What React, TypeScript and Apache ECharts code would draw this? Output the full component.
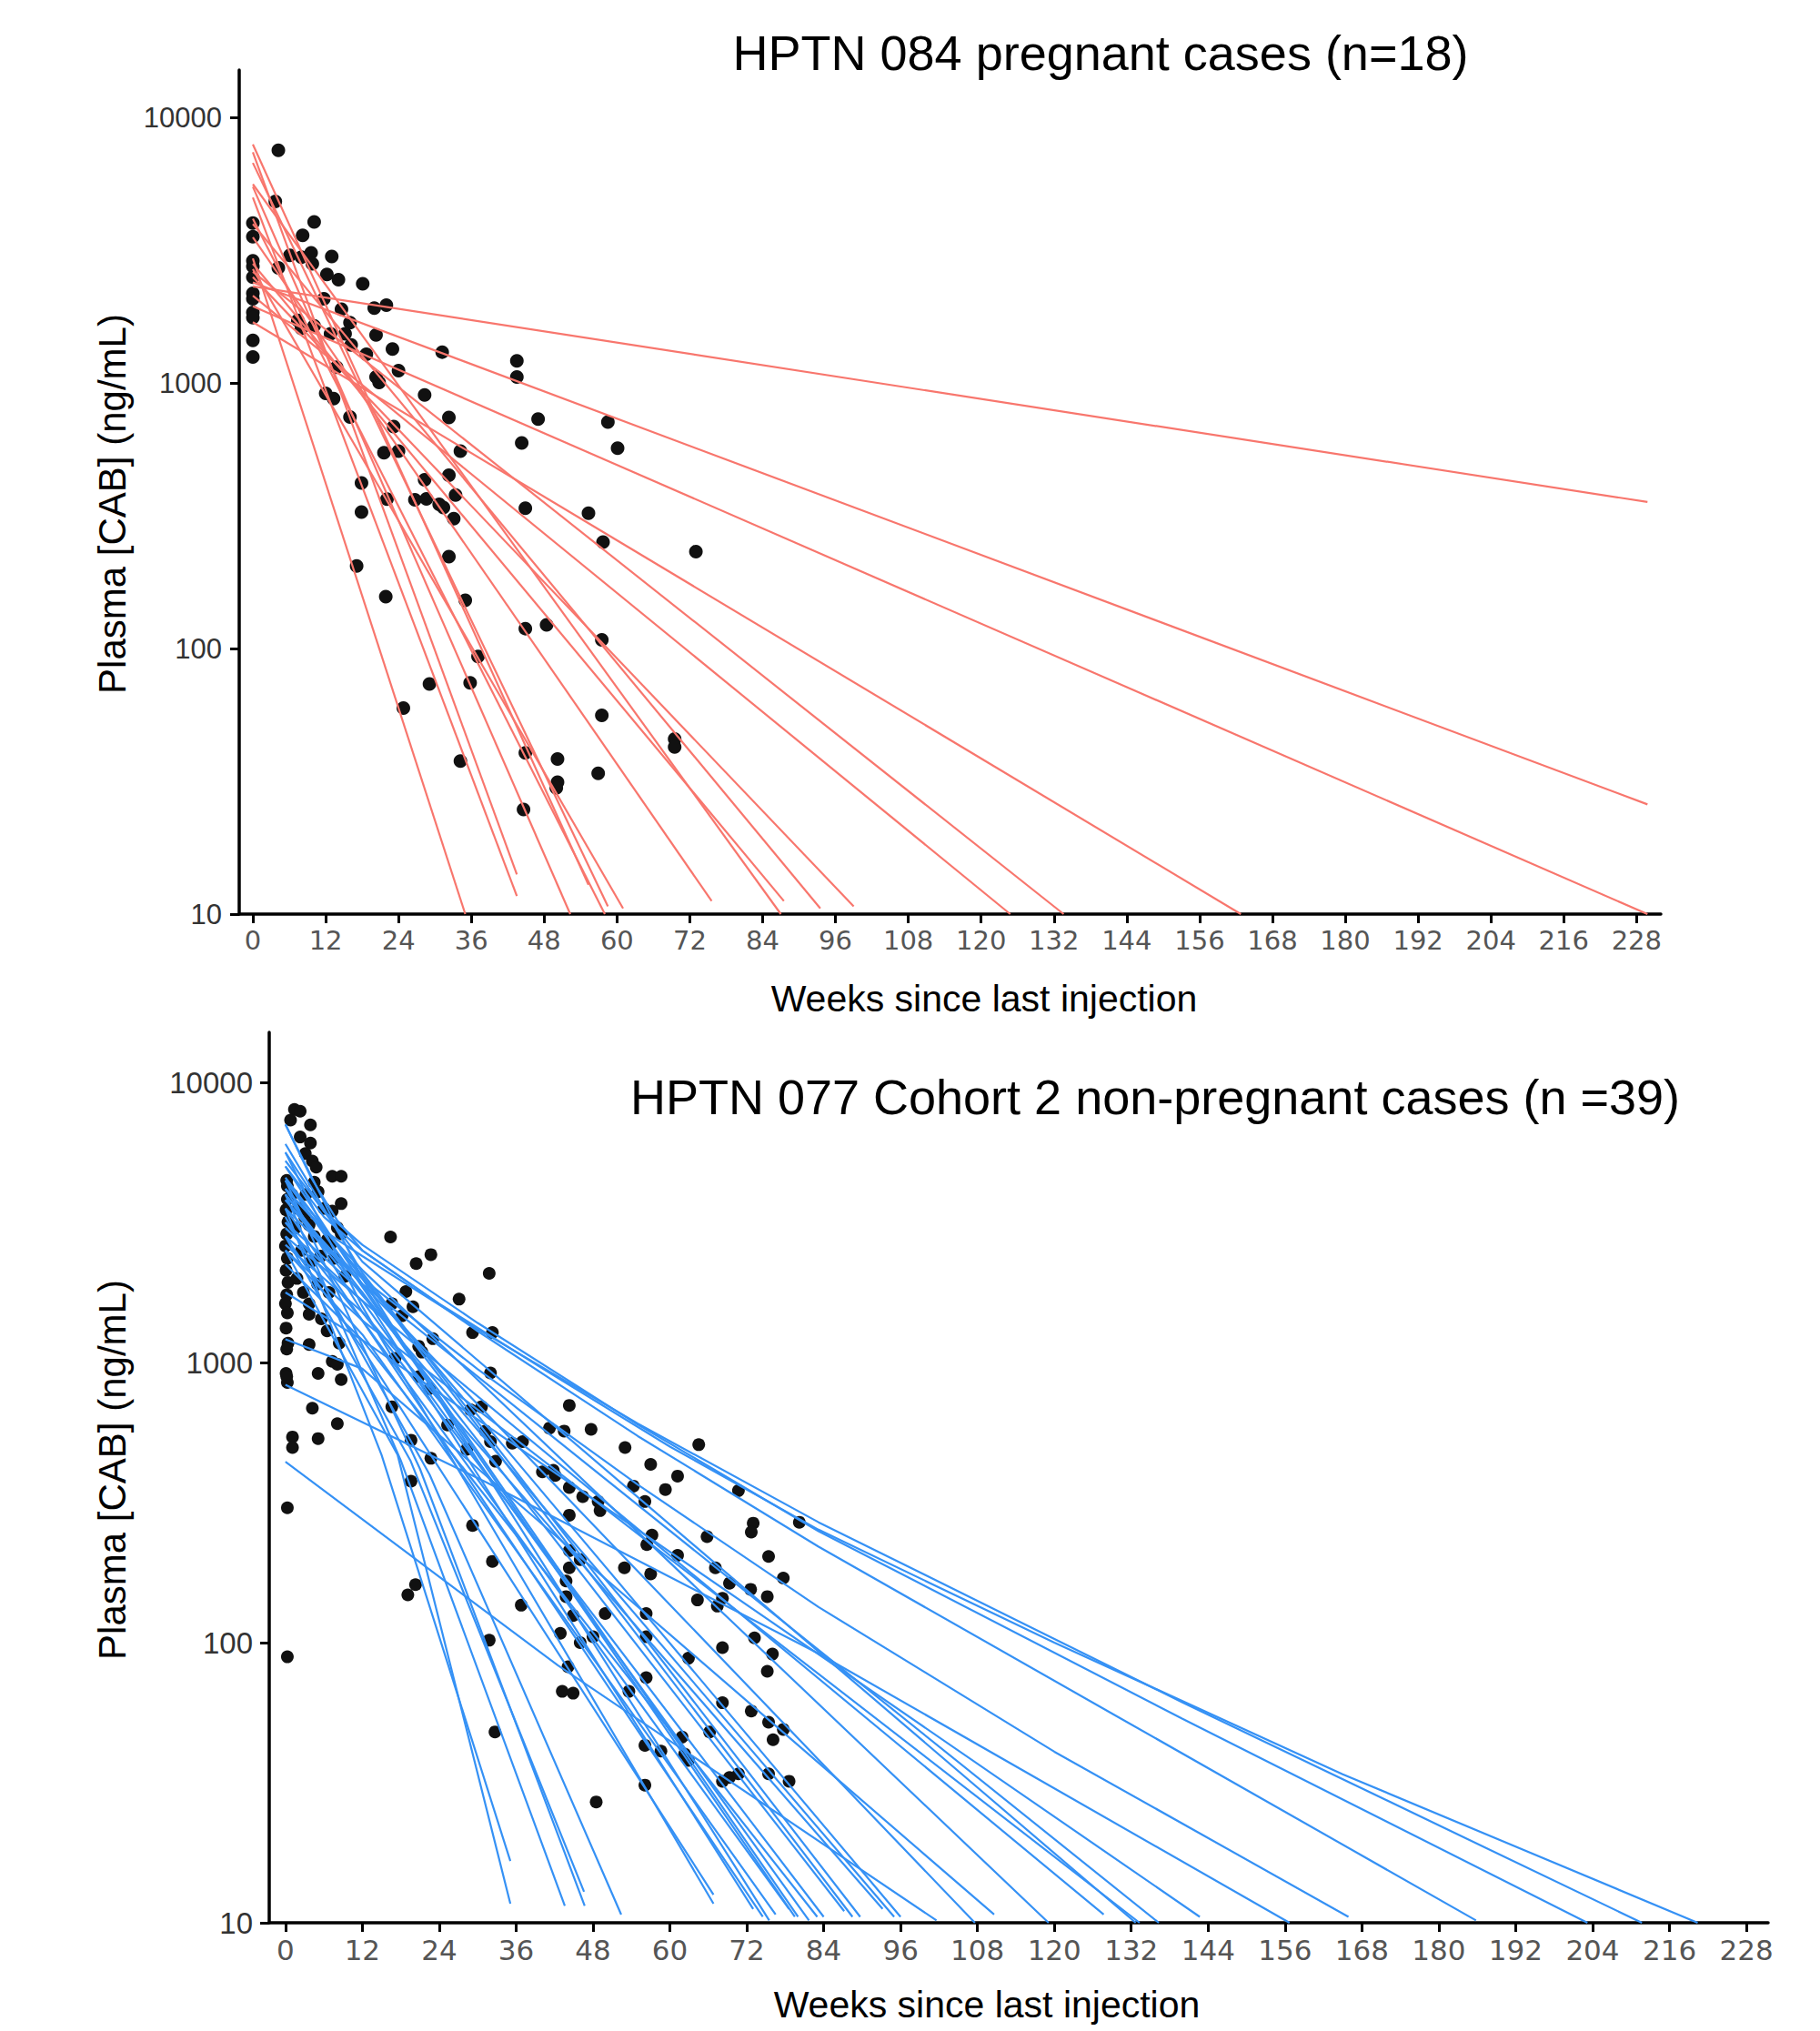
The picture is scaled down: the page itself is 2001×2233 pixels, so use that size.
import React, { useEffect, useRef } from 'react';
import * as echarts from 'echarts';

const WEEK_TICKS = [0, 12, 24, 36, 48, 60, 72, 84, 96, 108, 120, 132, 144, 156, 168, 180, 192, 204, 216, 228];
const CONC_TICKS = [10, 100, 1000, 10000];

const TITLE_084 = 'HPTN 084 pregnant cases (n=18)';
const TITLE_077 = 'HPTN 077 Cohort 2 non-pregnant cases (n =39)';
const X_NAME = 'Weeks since last injection';
const Y_NAME = 'Plasma [CAB] (ng/mL)';

// HPTN 084: observed concentrations [weeks, ng/mL]
const points084: [number, number][] = [
  [4.2, 7550], [3.7, 4840],
  [0, 4010], [0, 3565], [0, 2890], [0, 2755], [0, 2510], [0, 2180], [0, 2080], [0, 1850], [0, 1765], [0, 1450], [0, 1255],
  [10.1, 4050], [8.2, 3610], [4.2, 2720], [6.1, 3030], [8.0, 2985], [9.6, 3100], [9.8, 2820], [13.0, 3000],
  [12.2, 2570], [14.1, 2455], [18.1, 2370], [11.7, 2080], [14.6, 1900], [16.0, 1690], [20.0, 1920], [22.0, 1970],
  [7.4, 1725], [8.0, 1610], [10.1, 1645], [12.8, 1535], [15.2, 1535], [16.2, 1395], [20.3, 1520], [18.7, 1285],
  [23.0, 1345], [13.8, 1150], [20.3, 1055], [20.8, 1007], [24.0, 1115], [31.2, 1310], [43.5, 1215], [43.5, 1055],
  [12.0, 916], [13.3, 875], [28.3, 904], [16.0, 746], [32.3, 743], [23.2, 686], [47.0, 733], [58.5, 714],
  [44.3, 596], [60.1, 569], [21.6, 547], [24.0, 555], [34.2, 555], [32.3, 450], [17.9, 421], [28.3, 433],
  [22.1, 366], [26.7, 364], [28.6, 367], [30.7, 350], [31.4, 340], [33.4, 379], [33.1, 309], [17.9, 327],
  [44.9, 338], [55.3, 324], [57.7, 252], [73.0, 232], [17.1, 205], [32.3, 222], [21.9, 157], [35.0, 152],
  [44.9, 119], [48.4, 123], [57.5, 108], [37.1, 93.5], [29.1, 73.6], [35.8, 74.3], [24.8, 59.7], [57.5, 56.1],
  [69.5, 45.7], [69.5, 42.6], [44.9, 40.5], [50.2, 38.4], [50.2, 31.4], [50.0, 29.9], [56.9, 33.9], [34.2, 37.7],
  [44.6, 24.8],
];

// HPTN 084: individual decay lines, knots [weeks, ng/mL]
const lines084: [number, number][][] = [
  [[0, 2317], [229.8, 357]],
  [[0, 2399], [229.8, 25.9]],
  [[0, 1950], [229.8, 10]],
  [[0, 1698], [162.8, 10]],
  [[0, 2630], [133.6, 10]],
  [[0, 2138], [124.8, 10]],
  [[0, 2512], [99, 10.7]],
  [[0, 3981], [93.5, 10.5]],
  [[0, 2818], [87.5, 11.2]],
  [[0, 5623], [87, 10]],
  [[0, 3548], [75.6, 11.2]],
  [[0, 2692], [61, 10.5]],
  [[0, 6761], [58.5, 10.7]],
  [[0, 4169], [58, 10]],
  [[0, 7943], [55.3, 12.9]],
  [[0, 5495], [52.3, 10]],
  [[0, 5012], [43.5, 11.7]],
  [[0, 7413], [43.5, 14.1]],
  [[0, 2951], [35, 10]],
];

// HPTN 077: observed concentrations [weeks, ng/mL]
const points077: [number, number][] = [
  [0.3, 3828], [0.1, 3508], [0.4, 3177], [0.2, 2877], [0.0, 2606], [0.3, 2355], [0.1, 2133], [0.4, 1932],
  [0.2, 1746], [0.0, 1622], [0.3, 1503], [0.1, 1327], [0.4, 1172], [0.2, 1117], [0.1, 914], [0.3, 849],
  [0.2, 891], [0.3, 4266], [0.2, 4467], [1.1, 542], [1.1, 497], [0.3, 303], [0.3, 89],
  [1.4, 8000], [2.3, 7890], [0.8, 7330], [3.9, 7050], [2.3, 6380], [3.9, 6070], [3.1, 5570], [4.2, 5240],
  [4.8, 4980], [4.5, 4400], [5.1, 4070], [7.3, 4620], [8.7, 4620], [8.7, 3690], [7.3, 3470], [8.1, 3030],
  [8.7, 2880], [3.7, 3100], [6.5, 2735], [7.6, 2355], [9.3, 2030], [3.7, 1620], [3.7, 1486], [5.6, 1432],
  [6.5, 1297], [3.7, 1159], [8.4, 1172], [7.3, 1009], [8.1, 986], [5.1, 914], [8.7, 869], [4.2, 687],
  [8.1, 605], [5.1, 535],
  [1.0, 3981], [1.5, 3020], [2.0, 3548], [2.5, 2512], [3.0, 3311], [1.8, 1995], [4.5, 2818], [5.5, 2399],
  [6.0, 3548], [2.8, 1778], [5.0, 1905], [6.8, 1778], [4.0, 2291], [7.0, 2630], [3.2, 3981],
  [16.4, 2805], [20.4, 2254], [22.7, 2427], [31.8, 2080], [27.1, 1683], [18.8, 1791], [19.9, 1581], [16.6, 1622],
  [18.2, 1469], [29.2, 1279], [32.3, 1279], [23.0, 1216], [20.8, 1143], [21.3, 1089], [17.1, 1035], [32.0, 918],
  [20.8, 891], [22.5, 807], [16.6, 695], [19.6, 528], [22.7, 455], [28.9, 678], [30.6, 695], [25.3, 598],
  [31.2, 569], [32.0, 522], [28.3, 490], [32.8, 444], [35.4, 515], [37.0, 522], [41.2, 583], [43.5, 569],
  [44.3, 703], [47.7, 577], [53.0, 497], [57.0, 433], [64.5, 509], [40.1, 407], [41.8, 412],
  [19.6, 377], [29.2, 262], [19.1, 148], [20.3, 161], [32.3, 195], [36.8, 136], [31.8, 102], [32.7, 48],
  [42.1, 395], [44.3, 358], [46.4, 332], [48.8, 319], [49.1, 296], [44.3, 285], [54.3, 362], [56.1, 319],
  [59.3, 352], [61.2, 393], [70.7, 349], [80.2, 269], [73.0, 267], [72.7, 248], [65.8, 239], [57.2, 242],
  [56.4, 224], [61.2, 205], [75.4, 203], [77.7, 170], [44.3, 213], [46.0, 198], [44.3, 185], [52.9, 185],
  [57.0, 176], [67.1, 185], [69.3, 163], [72.6, 155], [75.2, 146], [64.3, 142], [68.2, 144], [67.4, 135],
  [43.8, 166], [43.8, 146], [44.9, 125], [49.9, 127], [56.3, 127], [42.9, 108], [46.0, 100], [48.0, 105],
  [56.3, 105], [73.2, 104], [68.2, 96], [76.0, 91], [62.9, 88], [44.1, 82], [75.2, 79], [56.3, 75],
  [43.2, 67], [44.9, 66], [53.6, 67], [68.2, 61], [72.7, 57], [75.4, 52], [77.7, 49], [76.1, 45],
  [66.2, 48], [61.9, 46], [56.1, 43], [58.6, 41], [62.3, 40], [62.9, 38], [68.2, 32], [69.3, 33],
  [70.7, 34], [75.4, 34], [78.6, 32], [56.1, 31], [48.5, 27],
];

// HPTN 077: individual decay curves, knots [weeks, ng/mL]
const lines077: [number, number][][] = [
  [[0, 3548], [15, 468], [35.1, 16.6]],
  [[0, 2512], [17.5, 468], [35.1, 11.7]],
  [[0, 3981], [18, 447], [43.6, 11.5]],
  [[0, 2818], [19.5, 447], [46.6, 12.9]],
  [[0, 4467], [21, 417], [46.7, 11.5]],
  [[0, 3311], [22.5, 398], [52.4, 10.7]],
  [[0, 5623], [12, 1585], [66.8, 11.7]],
  [[0, 2818], [12, 1122], [66.8, 12.6]],
  [[0, 3981], [12, 1778], [73.0, 11.2]],
  [[0, 3162], [12, 1413], [74.5, 10.5]],
  [[0, 7079], [12, 1995], [75.5, 10.2]],
  [[0, 2512], [12, 1259], [76.5, 10.7]],
  [[0, 3548], [12, 1413], [78.6, 11.2]],
  [[0, 4467], [12, 1862], [79.5, 10.5]],
  [[0, 5012], [12, 1905], [80.0, 10.5]],
  [[0, 3020], [12, 1660], [81.7, 10.2]],
  [[0, 2239], [12, 1202], [83.0, 10.5]],
  [[0, 4169], [12, 1514], [84.0, 10.5]],
  [[0, 3162], [12, 1778], [87.2, 11.0]],
  [[0, 4467], [12, 2042], [88.5, 10.5]],
  [[0, 6026], [12, 2089], [89.7, 10.5]],
  [[0, 2630], [12, 1514], [93.2, 11.2]],
  [[0, 3802], [12, 1738], [95.0, 10.5]],
  [[0, 4571], [12, 1995], [96.0, 10.5]],
  [[0, 442], [42.5, 83], [101.6, 10.2]],
  [[0, 3802], [12, 1905], [107.6, 10]],
  [[0, 1210], [12, 950], [110.6, 10.7]],
  [[0, 4169], [12, 2138], [119.1, 10]],
  [[0, 2818], [12, 1660], [127.7, 10.7]],
  [[0, 5248], [12, 2291], [132.7, 10]],
  [[0, 2512], [12, 1413], [133.3, 10]],
  [[0, 3548], [12, 1905], [136.3, 10]],
  [[0, 1778], [12, 1202], [142.7, 10.5]],
  [[0, 832], [31.5, 372], [83.2, 91.4], [156.7, 10]],
  [[0, 3981], [6, 2630], [12, 1995], [30, 946], [55, 366], [83.2, 134], [120, 40.8], [165.9, 10.5]],
  [[0, 5012], [6, 3311], [12, 2512], [30, 1294], [55, 546], [83.2, 220], [130, 54.2], [185.8, 10.2]],
  [[0, 5623], [6, 3467], [12, 2630], [30, 1384], [55, 600], [83.2, 250], [140, 53.5], [203.2, 10]],
  [[0, 4169], [6, 2951], [12, 2399], [30, 1315], [55, 605], [83.2, 269], [140, 61.2], [211.7, 10]],
  [[0, 7079], [4, 4571], [8, 3236], [12, 2512], [24, 1622], [40, 955], [60, 501], [83.2, 253], [120, 100], [165, 33.9], [220.4, 10]],
];

const RED = '#F8766D';
const BLUE = '#3591F5';
const DOT = '#111111';
const SANS = '"Liberation Sans", Arial, Helvetica, sans-serif';

export default function App() {
  const ref = useRef<HTMLDivElement>(null);

  useEffect(() => {
    if (!ref.current) return;
    const chart = echarts.init(ref.current, null, { renderer: 'svg' });
    const lg = (d: [number, number][]) => d.map(([w, c]) => [w, Math.log10(c)]);
    const logTicks = CONC_TICKS.map((v) => Math.log10(v));

    const xAxisFor = (gridIndex: number, min: number, max: number, fontSize: number, margin: number) => ({
      type: 'value',
      gridIndex,
      min,
      max,
      splitLine: { show: false },
      axisLine: { show: true, onZero: false, lineStyle: { color: '#000', width: 3.5 } },
      axisTick: { show: true, length: 10, lineStyle: { color: '#000', width: 3 }, customValues: WEEK_TICKS },
      axisLabel: { customValues: WEEK_TICKS, fontFamily: '"DejaVu Sans", Verdana, sans-serif', fontSize, color: '#555', margin },
    });
    const yAxisFor = (gridIndex: number, maxLog: number, fontSize: number, margin: number) => ({
      type: 'value',
      gridIndex,
      min: 1,
      max: maxLog,
      splitLine: { show: false },
      axisLine: { show: true, onZero: false, lineStyle: { color: '#000', width: 3.5 } },
      axisTick: { show: true, length: 10, lineStyle: { color: '#000', width: 3 }, customValues: logTicks },
      axisLabel: {
        customValues: logTicks,
        fontFamily: SANS,
        fontSize,
        color: '#333',
        margin,
        formatter: (v: number) => String(Math.round(Math.pow(10, v))),
      },
    });

    const series: any[] = [];
    series.push({
      type: 'scatter', xAxisIndex: 0, yAxisIndex: 0, data: lg(points084), symbolSize: 15,
      itemStyle: { color: DOT, opacity: 1 }, z: 2, silent: true,
    });
    lines084.forEach((l) =>
      series.push({
        type: 'line', xAxisIndex: 0, yAxisIndex: 0, data: lg(l), showSymbol: false, symbol: 'none',
        lineStyle: { color: RED, width: 2.2 }, z: 3, silent: true,
      })
    );
    series.push({
      type: 'scatter', xAxisIndex: 1, yAxisIndex: 1, data: lg(points077), symbolSize: 14,
      itemStyle: { color: DOT, opacity: 1 }, z: 2, silent: true,
    });
    lines077.forEach((l) =>
      series.push({
        type: 'line', xAxisIndex: 1, yAxisIndex: 1, data: lg(l), showSymbol: false, symbol: 'none',
        lineStyle: { color: BLUE, width: 2.2 }, z: 3, silent: true,
      })
    );

    const txt = (text: string, x: number, y: number, fontSize: number, rotation = 0) => ({
      type: 'text', x, y, rotation, z: 10, silent: true,
      style: { text, fill: '#000', fontSize, fontFamily: SANS, align: 'center', verticalAlign: 'middle' },
    });

    chart.setOption({
      animation: false,
      backgroundColor: '#fff',
      grid: [
        { left: 263, top: 77, width: 1563, height: 928 },
        { left: 296, top: 1135, width: 1648, height: 979 },
      ],
      xAxis: [xAxisFor(0, -2.25, 232, 29, 14), xAxisFor(1, -2.53, 231.4, 31, 14)],
      yAxis: [yAxisFor(0, 4.18, 31, 19), yAxisFor(1, 4.1786, 33, 18)],
      series,
      graphic: [
        txt(TITLE_084, 1210, 58, 54),
        txt(TITLE_077, 1270, 1206, 54),
        txt(X_NAME, 1082, 1098, 41),
        txt(X_NAME, 1085, 2204, 41),
        txt(Y_NAME, 123, 554, 42, Math.PI / 2),
        txt(Y_NAME, 123, 1616, 42, Math.PI / 2),
      ],
    });
    return () => chart.dispose();
  }, []);

  return (
    <div
      ref={ref}
      style={{ position: 'absolute', left: 0, top: 0, width: 2001, height: 2233, background: '#fff' }}
    />
  );
}
